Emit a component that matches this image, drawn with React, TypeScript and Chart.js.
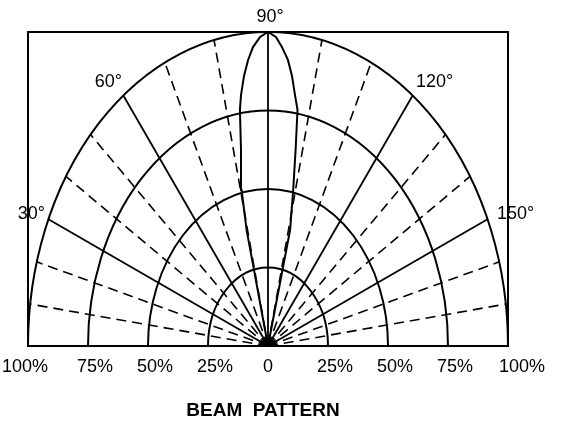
import React, { useEffect, useRef } from "react";
import { Chart, registerables } from "chart.js";

Chart.register(...registerables);

// Radial grid rings (% of max intensity)
const ringValues = [25, 50, 75, 100];
// Radial lines every 10 degrees (0 deg at the left end of the base line)
const radialAngles = [10, 20, 30, 40, 50, 60, 70, 80, 90, 100, 110, 120, 130, 140, 150, 160, 170];
const solidAngles = [30, 60, 90, 120, 150];
// Angle labels
const angleLabelValues = [30, 60, 90, 120, 150];
const angleLabelTexts = ["30°", "60°", "90°", "120°", "150°"];
// Bottom tick labels
const xTickValues = [-100, -75, -50, -25, 0, 25, 50, 75, 100];
const xTickLabels = ["100%", "75%", "50%", "25%", "0", "25%", "50%", "75%", "100%"];
// Beam pattern lobe (horizontal % and vertical %)
const lobeX = [0, -8.9, -11.0, -11.25, -11.7, -11.25, -10.0, -8.3, -6.25, -3.3, 0, 3.3, 5.8, 8.3, 10.0, 11.25, 12.3, 11.5, 10.5, 9.2, 0];
const lobeY = [0, 36.9, 49.7, 62.4, 75.2, 79.9, 86.0, 91.1, 95.2, 98.4, 100, 98.4, 95.2, 91.1, 86.0, 79.9, 75.2, 62.4, 49.7, 36.9, 0];
const titleText = "BEAM  PATTERN";

const FONT = "'Liberation Sans', Arial, sans-serif";

const gridPlugin = {
  id: "beamGrid",
  beforeDatasetsDraw(chart: any) {
    const { ctx, chartArea, scales } = chart;
    const xs = scales.x;
    const ys = scales.y;
    const cx = xs.getPixelForValue(0);
    const cy = ys.getPixelForValue(0);
    const rx = xs.getPixelForValue(100) - cx;
    const ry = cy - ys.getPixelForValue(100);
    ctx.save();
    ctx.beginPath();
    ctx.rect(chartArea.left - 1, chartArea.top - 1, chartArea.right - chartArea.left + 2, chartArea.bottom - chartArea.top + 2);
    ctx.clip();
    ctx.strokeStyle = "#000";
    // rings
    ctx.lineWidth = 2;
    ctx.setLineDash([]);
    ringValues.forEach((r) => {
      const ex = xs.getPixelForValue(r) - cx;
      const ey = cy - ys.getPixelForValue(r);
      ctx.beginPath();
      ctx.ellipse(cx, cy, ex, ey, 0, Math.PI, 2 * Math.PI);
      ctx.stroke();
    });
    // radial lines
    radialAngles.forEach((a) => {
      const t = (a * Math.PI) / 180;
      const dx = -Math.cos(t);
      const dy = -Math.sin(t);
      const len = 1 / Math.sqrt((dx / rx) ** 2 + (dy / ry) ** 2);
      const solid = solidAngles.includes(a);
      ctx.lineWidth = solid ? 1.8 : 1.6;
      ctx.setLineDash(solid ? [] : [10, 6]);
      ctx.beginPath();
      ctx.moveTo(cx, cy);
      ctx.lineTo(cx + dx * len, cy + dy * len);
      ctx.stroke();
    });
    ctx.restore();
    // box
    ctx.save();
    ctx.strokeStyle = "#000";
    ctx.lineWidth = 2;
    ctx.strokeRect(chartArea.left, chartArea.top, chartArea.right - chartArea.left, chartArea.bottom - chartArea.top);
    ctx.restore();
  },
  afterDraw(chart: any) {
    const { ctx, scales } = chart;
    const xs = scales.x;
    const ys = scales.y;
    const cx = xs.getPixelForValue(0);
    const cy = ys.getPixelForValue(0);
    const rx = xs.getPixelForValue(100) - cx;
    const ry = cy - ys.getPixelForValue(100);
    ctx.save();
    ctx.fillStyle = "#000";
    ctx.textAlign = "center";
    ctx.textBaseline = "middle";
    ctx.font = `18px ${FONT}`;
    // angle labels
    const nudges: Record<number, [number, number]> = {
      30: [-17, -5],
      60: [-15, -13],
      90: [2, -15],
      120: [22, -13],
      150: [28, -5],
    };
    angleLabelValues.forEach((a, i) => {
      const t = (a * Math.PI) / 180;
      const dx = -Math.cos(t);
      const dy = -Math.sin(t);
      const len = 1 / Math.sqrt((dx / rx) ** 2 + (dy / ry) ** 2);
      const n = nudges[a] || [0, 0];
      ctx.fillText(angleLabelTexts[i], cx + dx * len + n[0], cy + dy * len + n[1]);
    });
    // bottom tick labels
    xTickValues.forEach((v, i) => {
      let off = 7;
      if (v === 0) off = 0;
      if (v === -100) off = -3;
      if (v === 100) off = 14;
      ctx.fillText(xTickLabels[i], xs.getPixelForValue(v) + off, cy + 21);
    });
    // title
    ctx.font = `bold 19px ${FONT}`;
    ctx.fillText(titleText, cx - 5, cy + 65);
    ctx.restore();
  },
};

export default function App() {
  const ref = useRef<HTMLCanvasElement | null>(null);
  useEffect(() => {
    if (!ref.current) return;
    const chart = new Chart(ref.current, {
      type: "scatter",
      data: {
        datasets: [
          {
            label: "Beam pattern",
            data: lobeX.map((x, i) => ({ x, y: lobeY[i] })),
            showLine: true,
            borderColor: "#000",
            borderWidth: 2,
            pointRadius: 0,
            tension: 0,
          },
        ],
      },
      options: {
        responsive: false,
        animation: false,
        layout: { padding: { left: 28, right: 53, top: 32, bottom: 79 } },
        scales: {
          x: { type: "linear", min: -100, max: 100, display: false },
          y: { type: "linear", min: 0, max: 100, display: false },
        },
        plugins: {
          legend: { display: false },
          tooltip: { enabled: false },
          title: { display: false },
        },
      },
      plugins: [gridPlugin],
    });
    return () => chart.destroy();
  }, []);
  return (
    <div style={{ position: "absolute", left: 0, top: 0, width: 561, height: 425, background: "#fff" }}>
      <canvas ref={ref} width={561} height={425} style={{ display: "block" }} />
    </div>
  );
}
